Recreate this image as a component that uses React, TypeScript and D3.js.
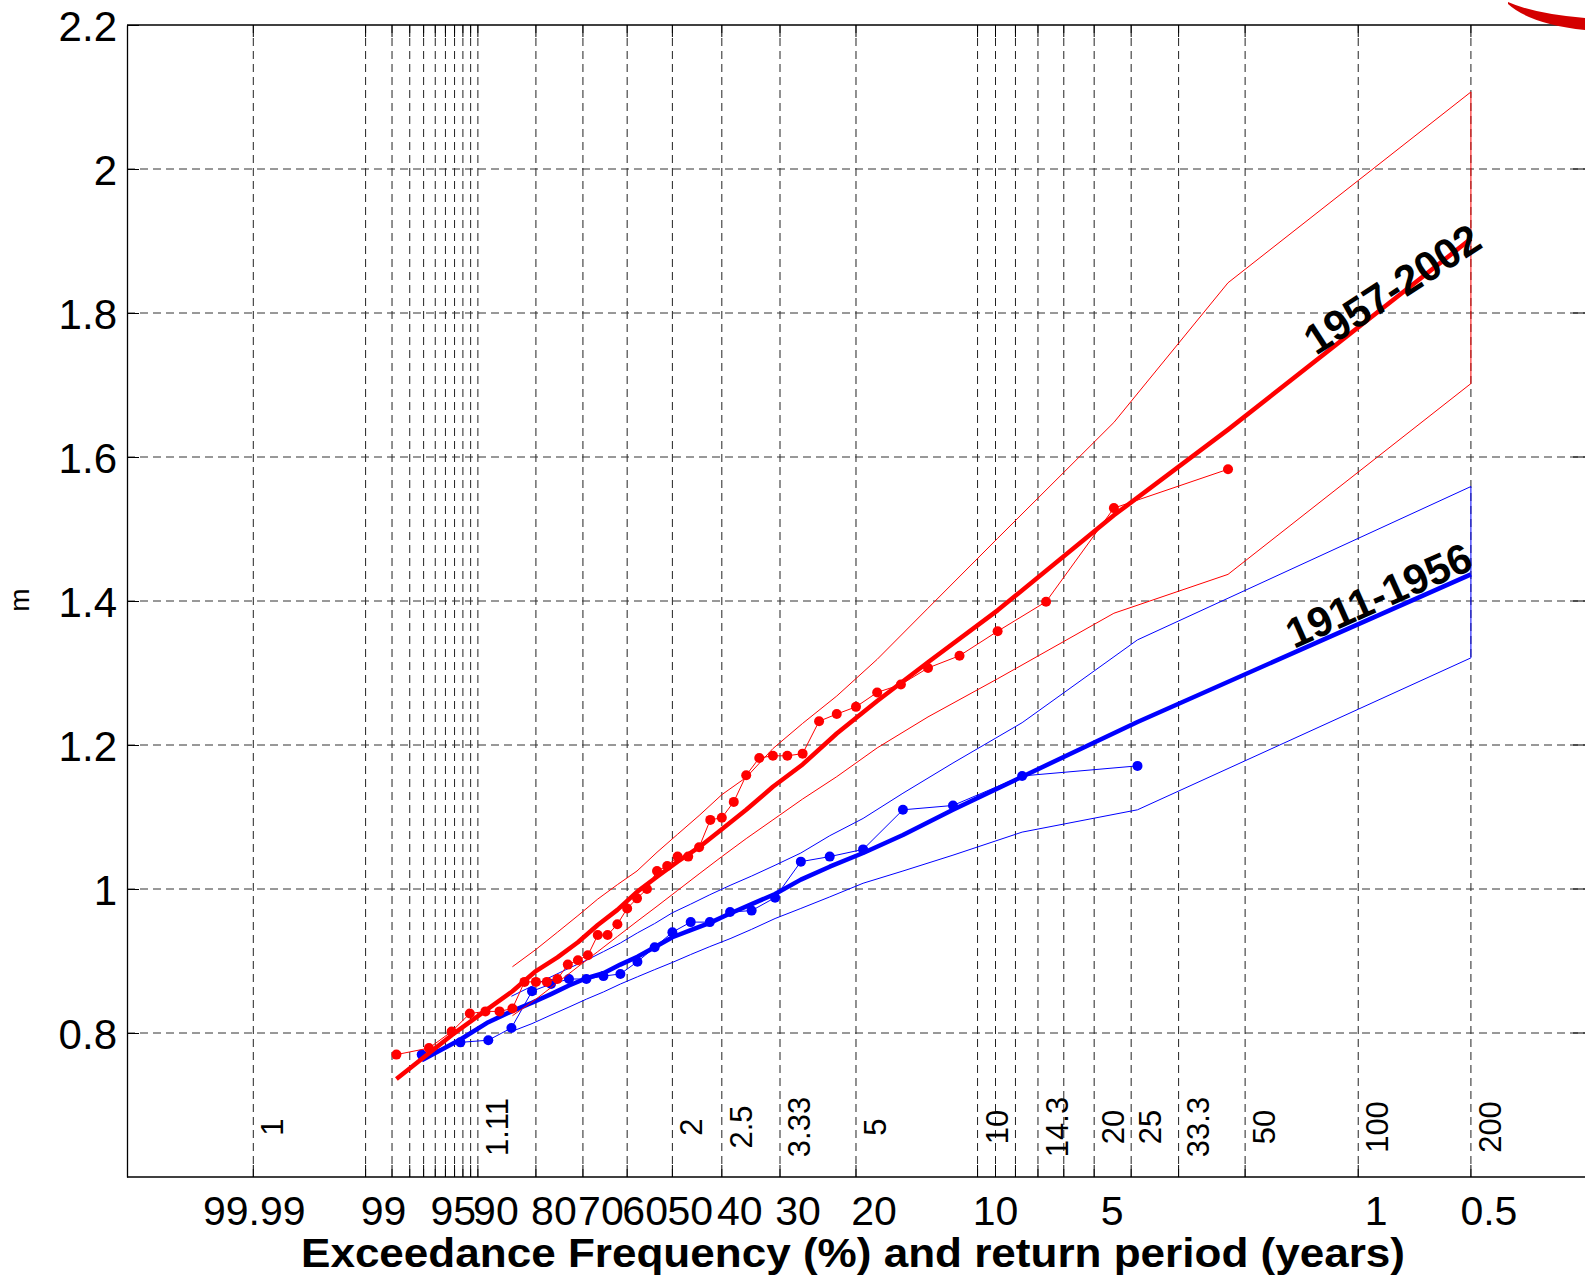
import { useEffect, useRef } from 'react';
import * as d3 from 'd3';

const W = 1585;
const H = 1281;
const FONT = '"Liberation Sans", Arial, Helvetica, sans-serif';

// exceedance frequency (%) of the vertical grid lines
const gridExceed = [99.99, 99, 98, 97, 96, 95, 94, 93, 92, 91, 90, 80, 70, 60, 50, 40, 30, 20, 10, 9, 8, 7, 6, 5, 4, 3, 2, 1, 0.5];
// labelled frequencies on the bottom axis
const freqTicks = [99.99, 99, 95, 90, 80, 70, 60, 50, 40, 30, 20, 10, 5, 1, 0.5];
// return period labels (years) and where they sit
const returnExceed = [99.99, 90, 50, 40, 30, 20, 10, 7, 5, 4, 3, 2, 1, 0.5];
const returnLabels = ['1', '1.11', '2', '2.5', '3.33', '5', '10', '14.3', '20', '25', '33.3', '50', '100', '200'];
const yTicks = [0.8, 1, 1.2, 1.4, 1.6, 1.8, 2, 2.2];

// 1957-2002 annual maxima (m) with their plotting positions
const redExceed = [97.78, 95.56, 93.33, 91.11, 88.89, 86.67, 84.44, 82.22, 80, 77.78, 75.56, 73.33, 71.11, 68.89, 66.67, 64.44, 62.22, 60, 57.78, 55.56, 53.33, 51.11, 48.89, 46.67, 44.44, 42.22, 40, 37.78, 35.56, 33.33, 31.11, 28.89, 26.67, 24.44, 22.22, 20, 17.78, 15.56, 13.33, 11.11, 8.89, 6.67, 4.44, 2.22];
const redLevel = [0.770, 0.779, 0.802, 0.827, 0.830, 0.830, 0.834, 0.871, 0.871, 0.871, 0.875, 0.895, 0.901, 0.908, 0.936, 0.936, 0.951, 0.973, 0.987, 1.000, 1.025, 1.032, 1.045, 1.045, 1.058, 1.096, 1.099, 1.121, 1.158, 1.182, 1.185, 1.185, 1.188, 1.233, 1.243, 1.253, 1.273, 1.284, 1.307, 1.324, 1.358, 1.399, 1.529, 1.583];

// fitted curve for 1957-2002
const redFitExceed = [97.78, 93.33, 88.89, 84.44, 80, 75.56, 71.11, 66.67, 62.22, 57.78, 53.33, 48.89, 44.44, 40, 35.56, 31.11, 26.67, 22.22, 17.78, 13.33, 8.89, 4.44, 2.22, 0.5];
const redFit = [0.736, 0.797, 0.831, 0.858, 0.886, 0.905, 0.926, 0.950, 0.971, 0.996, 1.017, 1.038, 1.058, 1.083, 1.110, 1.142, 1.173, 1.216, 1.261, 1.315, 1.387, 1.519, 1.638, 1.903];

// confidence band for 1957-2002
const redBandExceed = [84.44, 80, 75.56, 71.11, 66.67, 62.22, 57.78, 53.33, 48.89, 44.44, 40, 35.56, 31.11, 26.67, 22.22, 17.78, 13.33, 8.89, 4.44, 2.22, 0.5];
const redUpper = [0.892, 0.916, 0.940, 0.963, 0.986, 1.006, 1.025, 1.051, 1.076, 1.102, 1.131, 1.155, 1.195, 1.230, 1.268, 1.319, 1.390, 1.487, 1.648, 1.842, 2.107];
const redLower = [0.824, 0.847, 0.870, 0.892, 0.913, 0.934, 0.955, 0.976, 0.998, 1.021, 1.045, 1.070, 1.096, 1.125, 1.156, 1.196, 1.239, 1.292, 1.383, 1.437, 1.702];

// 1911-1956 annual maxima (m)
const blueExceed = [96.15, 92.31, 88.46, 84.62, 80.77, 76.92, 73.08, 69.23, 65.38, 61.54, 57.69, 53.85, 50, 46.15, 42.31, 38.46, 34.62, 30.77, 26.92, 23.08, 19.23, 15.38, 11.54, 7.69, 3.85];
const blueLevel = [0.770, 0.787, 0.790, 0.807, 0.858, 0.868, 0.875, 0.875, 0.879, 0.882, 0.899, 0.919, 0.940, 0.954, 0.954, 0.968, 0.970, 0.988, 1.038, 1.045, 1.055, 1.110, 1.116, 1.157, 1.171];

const blueFitExceed = [96.15, 92.31, 88.46, 84.62, 80.77, 76.92, 73.08, 69.23, 65.38, 61.54, 57.69, 53.85, 50, 46.15, 42.31, 38.46, 34.62, 30.77, 26.92, 23.08, 19.23, 15.38, 11.54, 7.69, 3.85, 0.5];
const blueFit = [0.762, 0.791, 0.815, 0.830, 0.842, 0.854, 0.866, 0.876, 0.883, 0.895, 0.906, 0.919, 0.933, 0.943, 0.953, 0.966, 0.979, 0.993, 1.013, 1.031, 1.050, 1.075, 1.110, 1.156, 1.232, 1.437];

const blueBandExceed = [84.62, 80.77, 76.92, 73.08, 69.23, 65.38, 61.54, 57.69, 53.85, 50, 46.15, 42.31, 38.46, 34.62, 30.77, 26.92, 23.08, 19.23, 15.38, 11.54, 7.69, 3.85, 0.5];
const blueUpper = [0.851, 0.865, 0.878, 0.890, 0.901, 0.913, 0.925, 0.939, 0.952, 0.967, 0.979, 0.992, 1.005, 1.018, 1.033, 1.050, 1.074, 1.098, 1.133, 1.175, 1.231, 1.346, 1.559];
const blueLower = [0.802, 0.813, 0.825, 0.836, 0.847, 0.857, 0.868, 0.878, 0.888, 0.898, 0.909, 0.920, 0.931, 0.944, 0.959, 0.973, 0.989, 1.008, 1.025, 1.047, 1.079, 1.110, 1.321];

const RED = '#ff0000';
const BLUE = '#0000ff';

// Gumbel reduced variate of the non-exceedance probability
const gumbel = (p: number) => -Math.log(-Math.log(1 - p / 100));

export default function App() {
  const chartRef = useRef<SVGSVGElement>(null);

  useEffect(() => {
    const svg = d3.select(chartRef.current);
    svg.selectAll('*').remove();

    const left = 127, right = 1585, top = 25, bottom = 1177;

    const x = d3.scaleLinear().domain([-3, 6]).range([left, right]);
    const px = (p: number) => x(gumbel(p));
    const y = d3.scaleLinear().domain([0.6, 2.2]).range([bottom, top]);

    svg.append('rect').attr('width', W).attr('height', H).attr('fill', '#fff');

    // grid
    const grid = svg.append('g');
    grid.selectAll('.vgrid')
      .data(gridExceed)
      .enter().append('line')
      .attr('x1', d => px(d)).attr('x2', d => px(d))
      .attr('y1', top).attr('y2', bottom)
      .attr('stroke', '#222')
      .attr('stroke-dasharray', '8,5');
    grid.selectAll('.hgrid')
      .data(yTicks.filter(d => d < 2.2))
      .enter().append('line')
      .attr('x1', left).attr('x2', right)
      .attr('y1', d => y(d)).attr('y2', d => y(d))
      .attr('stroke', '#333')
      .attr('stroke-dasharray', '8,5');

    // tick marks
    const ticks = svg.append('g').attr('stroke', '#000');
    gridExceed.forEach(p => {
      ticks.append('line').attr('x1', px(p)).attr('x2', px(p)).attr('y1', bottom).attr('y2', bottom - 12);
      ticks.append('line').attr('x1', px(p)).attr('x2', px(p)).attr('y1', top).attr('y2', top + 12);
    });
    yTicks.forEach(v => {
      ticks.append('line').attr('x1', right - 12).attr('x2', right).attr('y1', y(v)).attr('y2', y(v));
    });

    const line = d3.line<[number, number]>()
      .x(d => px(d[0]))
      .y(d => y(d[1]));
    const zip = (a: number[], b: number[]) => a.map((d, i) => [d, b[i]] as [number, number]);

    const drawSeries = (
      color: string,
      bandP: number[], upper: number[], lower: number[],
      obsP: number[], obs: number[],
      fitP: number[], fit: number[]
    ) => {
      const g = svg.append('g');
      g.append('path').attr('d', line(zip(bandP, upper))).attr('fill', 'none').attr('stroke', color).attr('stroke-width', 1);
      g.append('path').attr('d', line(zip(bandP, lower))).attr('fill', 'none').attr('stroke', color).attr('stroke-width', 1);
      const last = bandP.length - 1;
      g.append('line')
        .attr('x1', px(bandP[last])).attr('x2', px(bandP[last]))
        .attr('y1', y(upper[last])).attr('y2', y(lower[last]))
        .attr('stroke', color).attr('stroke-width', 1);
      g.append('path').attr('d', line(zip(obsP, obs))).attr('fill', 'none').attr('stroke', color).attr('stroke-width', 1);
      g.append('path').attr('d', line(zip(fitP, fit))).attr('fill', 'none').attr('stroke', color)
        .attr('stroke-width', 4.5).attr('stroke-linejoin', 'round');
      g.selectAll('circle')
        .data(zip(obsP, obs))
        .enter().append('circle')
        .attr('cx', d => px(d[0]))
        .attr('cy', d => y(d[1]))
        .attr('r', 5)
        .attr('fill', color);
    };

    drawSeries(BLUE, blueBandExceed, blueUpper, blueLower, blueExceed, blueLevel, blueFitExceed, blueFit);
    drawSeries(RED, redBandExceed, redUpper, redLower, redExceed, redLevel, redFitExceed, redFit);

    // axes box
    svg.append('line').attr('x1', left).attr('x2', right).attr('y1', bottom).attr('y2', bottom).attr('stroke', '#000').attr('stroke-width', 1.3);
    svg.append('line').attr('x1', left).attr('x2', right).attr('y1', top).attr('y2', top).attr('stroke', '#000').attr('stroke-width', 1.3);

    // y axis
    const yAxis = svg.append('g')
      .attr('transform', `translate(${left},0)`)
      .call(d3.axisLeft(y).tickValues(yTicks).tickSize(-12).tickSizeOuter(0).tickPadding(10).tickFormat(d => String(d)));
    yAxis.select('.domain').attr('stroke-width', 1.3);
    yAxis.selectAll('text')
      .attr('font-family', FONT)
      .attr('font-size', 42)
      .attr('fill', '#000')
      .attr('dy', '0.36em');

    // x tick labels (frequency); the original labels sit a little right of their lines
    svg.append('g').selectAll('text')
      .data(freqTicks)
      .enter().append('text')
      .attr('x', d => px(d) + (d === 99.99 ? 1 : 18))
      .attr('y', 1225)
      .attr('text-anchor', 'middle')
      .attr('font-family', FONT)
      .attr('font-size', 41)
      .text(d => String(d));

    // return period labels
    svg.append('g').selectAll('text')
      .data(returnExceed)
      .enter().append('text')
      .attr('transform', d => `translate(${px(d) + 30},1127) rotate(-90)`)
      .attr('text-anchor', 'middle')
      .attr('font-family', FONT)
      .attr('font-size', 31)
      .text((d, i) => returnLabels[i]);

    // axis titles
    svg.append('text')
      .attr('x', 853).attr('y', 1267)
      .attr('text-anchor', 'middle')
      .attr('font-family', FONT)
      .attr('font-size', 40)
      .attr('font-weight', 'bold')
      .attr('textLength', 1104)
      .attr('lengthAdjust', 'spacingAndGlyphs')
      .text('Exceedance Frequency (%) and return period (years)');
    svg.append('text')
      .attr('transform', 'translate(29,600) rotate(-90)')
      .attr('text-anchor', 'middle')
      .attr('font-family', FONT)
      .attr('font-size', 28)
      .text('m');

    // series labels
    svg.append('text')
      .attr('transform', 'translate(1316,356) rotate(-33)')
      .attr('font-family', FONT).attr('font-size', 42).attr('font-weight', 'bold')
      .text('1957-2002');
    svg.append('text')
      .attr('transform', 'translate(1294,649) rotate(-24)')
      .attr('font-family', FONT).attr('font-size', 42).attr('font-weight', 'bold')
      .text('1911-1956');

    // clipped red emblem at the top right corner
    svg.append('path')
      .attr('d', 'M1508,2 Q1535,14 1585,18 L1585,30 Q1530,24 1508,4 Z')
      .attr('fill', '#d40000');
  }, []);

  return (
    <div style={{ position: 'absolute', left: 0, top: 0 }}>
      <svg ref={chartRef} width={W} height={H} style={{ display: 'block' }}></svg>
    </div>
  );
}
